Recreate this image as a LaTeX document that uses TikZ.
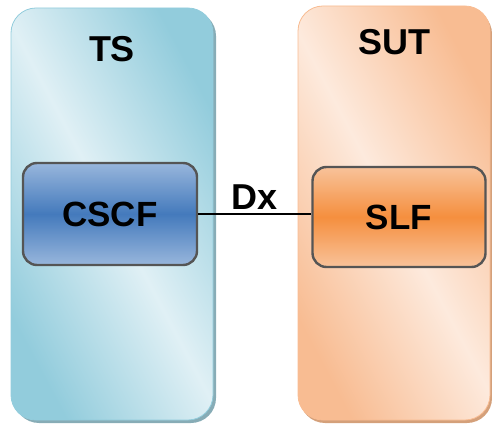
\documentclass[tikz,border=0pt]{standalone}
\usepackage{fontspec}
\setmainfont{Liberation Sans}
\usetikzlibrary{positioning,shadows}
\definecolor{tsdark}{RGB}{146,204,220}
\definecolor{tslight}{RGB}{224,240,245}
\definecolor{tsshade}{RGB}{135,172,182}
\definecolor{sutdark}{RGB}{248,188,146}
\definecolor{sutlight}{RGB}{253,234,221}
\definecolor{sutshade}{RGB}{212,160,122}
\definecolor{cscfdark}{RGB}{68,122,188}
\definecolor{cscflight}{RGB}{152,182,220}
\definecolor{slfdark}{RGB}{245,143,62}
\definecolor{slflight}{RGB}{248,194,154}
\definecolor{funcedge}{RGB}{85,85,85}
\tikzstyle{panel}=[rounded corners=25pt,inner sep=0pt]
\tikzstyle{func}=[rounded corners=14pt,draw=funcedge,line width=2.4pt,inner sep=0pt,
  font=\bfseries\fontsize{35}{40}\selectfont]
\tikzstyle{caption}=[inner sep=0pt,font=\bfseries\fontsize{36}{40}\selectfont]
\begin{document}
\begin{tikzpicture}[x=1pt,y=1pt]
	\useasboundingbox (0,0) rectangle (492,423);
	\node[panel,minimum width=202pt,minimum height=412pt,
	      top color=tsdark,bottom color=tsdark,middle color=tslight,shading angle=-62,draw=tsdark,line width=.8pt,
	      drop shadow={shadow xshift=3pt,shadow yshift=-3pt,fill=tsshade,opacity=1}]
	      (ts) at (112,209) {};
	\node[panel,minimum width=192pt,minimum height=414pt,
	      top color=sutdark,bottom color=sutdark,middle color=sutlight,shading angle=-62,draw=sutdark,line width=.8pt,
	      drop shadow={shadow xshift=2pt,shadow yshift=-3pt,fill=sutshade,opacity=1}]
	      (sut) at (394,210) {};
	\node[caption,below=29pt of ts.north]  (tslabel)  {TS};
	\node[caption,below=24pt of sut.north] (sutlabel) {SUT};
	\node[func,minimum width=174pt,minimum height=102pt,
	      top color=cscflight,bottom color=cscflight,middle color=cscfdark] (cscf) at (110,209) {CSCF};
	\node[func,minimum width=173pt,minimum height=100pt,
	      top color=slflight,bottom color=slflight,middle color=slfdark] (slf) at (399,206) {SLF};
	\draw[line width=1.6pt] (cscf.east) -- node[caption,above=4pt] (dx) {Dx} (cscf.east -| slf.west);
\end{tikzpicture}
\end{document}
